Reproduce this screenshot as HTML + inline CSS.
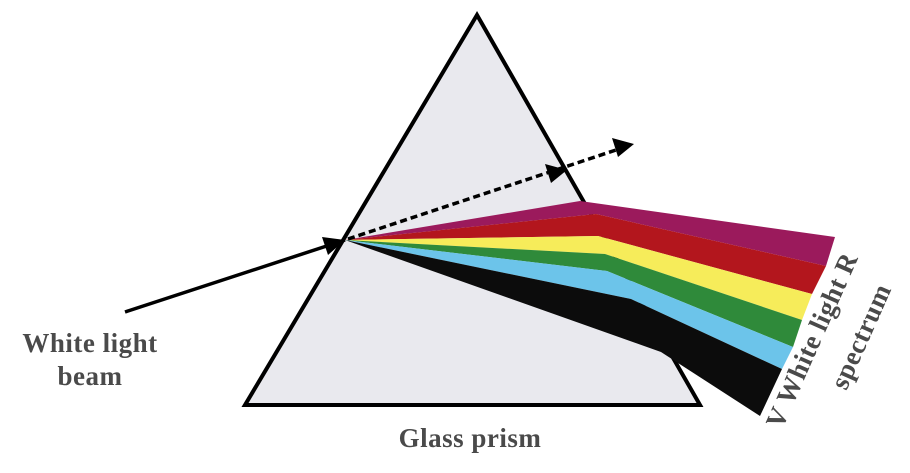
<!DOCTYPE html>
<html><head><meta charset="utf-8"><style>
html,body{margin:0;padding:0;background:#fff;}
svg{display:block;}
text{font-family:"Liberation Serif",serif;fill:#4a4a4a;font-weight:bold;}
</style></head><body>
<svg width="910" height="473" viewBox="0 0 910 473" xmlns="http://www.w3.org/2000/svg">
<polygon points="477,15 245,405 700,405" fill="#e9e9ee" stroke="#000" stroke-width="4" stroke-linejoin="miter"/>
<polygon points="345,240 580,201 835,237 826,266 596,214" fill="#9b1a5c"/>
<polygon points="345,240 596,214 826,266 812,294 598,236" fill="#b3161d"/>
<polygon points="345,240 598,236 812,294 802,320 605,254" fill="#f6ec5a"/>
<polygon points="345,240 605,254 802,320 793,347 607,271" fill="#2f8a3a"/>
<polygon points="345,240 607,271 793,347 782,369 631,299" fill="#6cc4ea"/>
<polygon points="345,240 631,299 782,369 760,416 661,352" fill="#0c0c0c"/>
<line x1="125" y1="312" x2="345" y2="240" stroke="#000" stroke-width="3.5"/>
<path d="M322,237 L345,240 L328,255 z" fill="#000"/>
<line x1="348" y1="239" x2="622" y2="148" stroke="#000" stroke-width="3.5" stroke-dasharray="7,4"/>
<path d="M612,138 L634,144 L618,157 z" fill="#000"/>
<path d="M545,164 L567,170 L551,183 z" fill="#000"/>
<text x="90" y="352" font-size="27" letter-spacing="0.5" text-anchor="middle">White light</text>
<text x="90" y="385" font-size="27" letter-spacing="0.5" text-anchor="middle">beam</text>
<text x="470" y="447" font-size="27" letter-spacing="0.5" text-anchor="middle">Glass prism</text>
<text transform="translate(820,344) rotate(-66)" font-size="27" letter-spacing="0.5" text-anchor="middle">V  White light  R</text>
<text transform="translate(869,340) rotate(-66)" font-size="27" letter-spacing="0.5" text-anchor="middle">spectrum</text>
</svg>
</body></html>
